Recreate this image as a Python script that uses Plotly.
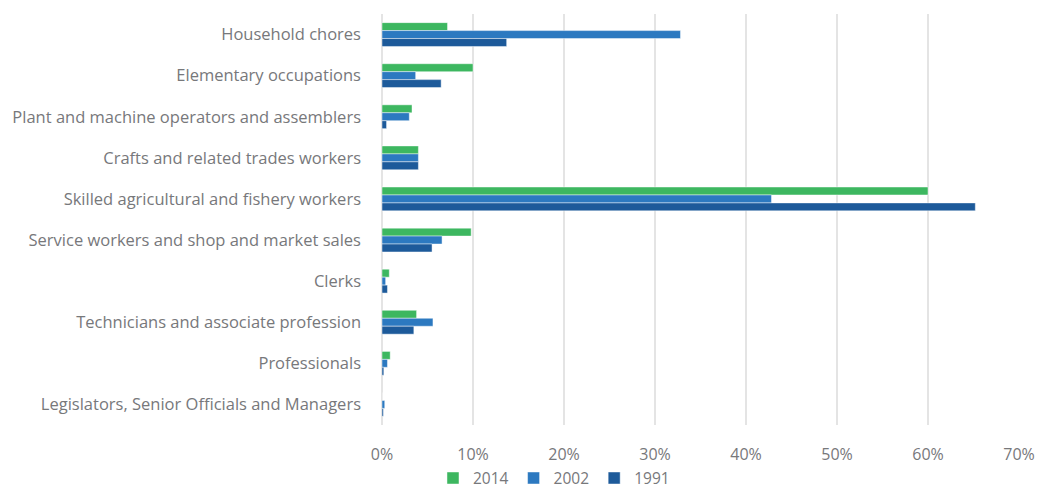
import plotly.graph_objects as go

# Occupation categories, top to bottom
categories = [
    "Household chores",
    "Elementary occupations",
    "Plant and machine operators and assemblers",
    "Crafts and related trades workers",
    "Skilled agricultural and fishery workers",
    "Service workers and shop and market sales",
    "Clerks",
    "Technicians and associate profession",
    "Professionals",
    "Legislators, Senior Officials and Managers",
]

# Share of employment (%) by year
values_2014 = [7.2, 10.0, 3.3, 4.0, 60.0, 9.8, 0.8, 3.8, 0.9, 0.0]
values_2002 = [32.8, 3.7, 3.0, 4.0, 42.8, 6.6, 0.4, 5.6, 0.6, 0.3]
values_1991 = [13.7, 6.5, 0.5, 4.0, 65.2, 5.5, 0.6, 3.5, 0.2, 0.15]

tick_vals = [0, 10, 20, 30, 40, 50, 60, 70]
tick_text = ["0%", "10%", "20%", "30%", "40%", "50%", "60%", "70%"]

series = [
    ("2014", values_2014, "#3db760"),
    ("2002", values_2002, "#2c79c0"),
    ("1991", values_1991, "#1d5a9a"),
]

text_color = "#77787b"
font_family = "'Open Sans', Lato, sans-serif"

fig = go.Figure()
for name, vals, color in series:
    fig.add_trace(go.Bar(
        y=categories,
        x=vals,
        name=name,
        orientation="h",
        marker=dict(color=color, line=dict(color="rgba(255,255,255,0.45)", width=1)),
    ))

fig.update_layout(
    width=1038,
    height=493,
    margin=dict(l=382, r=19, t=14, b=68, autoexpand=False),
    paper_bgcolor="white",
    plot_bgcolor="white",
    barmode="group",
    bargap=0.42,
    bargroupgap=0,
    font=dict(family=font_family, size=16, color=text_color),
    xaxis=dict(
        range=[0, 70],
        tickvals=tick_vals,
        ticktext=tick_text,
        showgrid=True,
        gridcolor="#e4e4e4",
        gridwidth=2,
        zeroline=True,
        zerolinecolor="#e4e4e4",
        zerolinewidth=2,
        showline=False,
        ticks="",
        ticklabelstandoff=18,
        tickfont=dict(size=16, color=text_color),
    ),
    yaxis=dict(
        autorange="reversed",
        showgrid=False,
        showline=False,
        ticks="",
        ticklabelstandoff=20,
        tickfont=dict(size=16.5, color=text_color),
    ),
    legend=dict(
        orientation="h",
        x=0.27,
        xanchor="center",
        y=-0.13,
        yanchor="middle",
        font=dict(size=15.5, color=text_color),
        itemwidth=30,
        traceorder="normal",
    ),
    showlegend=True,
)

fig.write_html("out.html")
